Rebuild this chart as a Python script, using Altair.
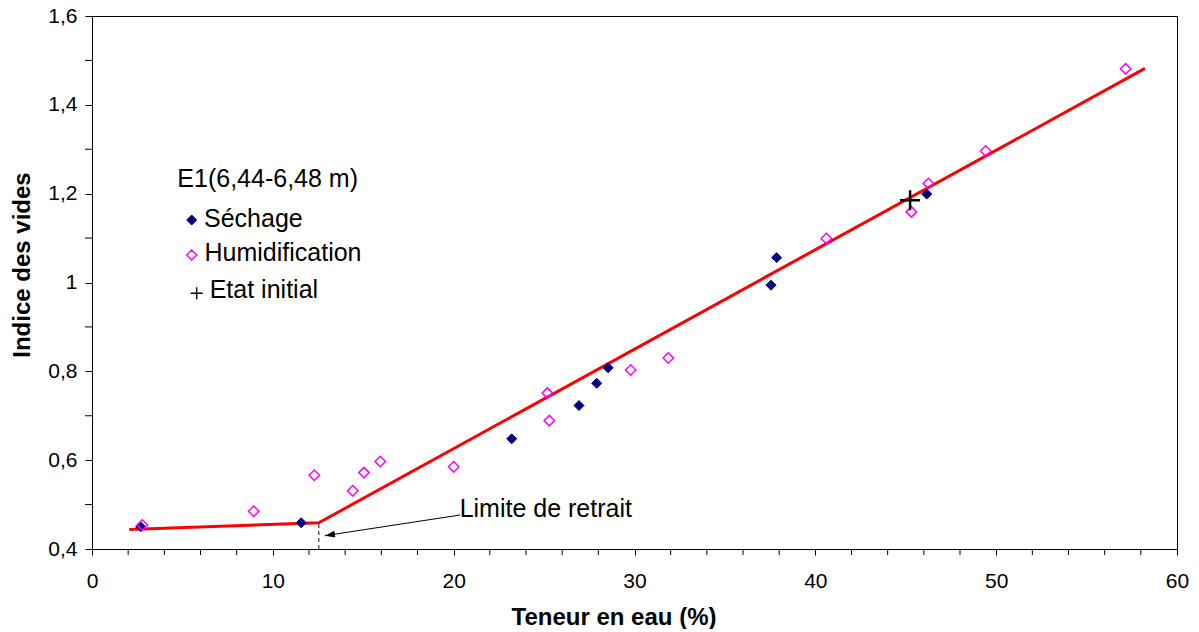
import altair as alt
import pandas as pd

# --- data ---
sechage_x = [2.69, 11.57, 23.21, 26.93, 27.91, 28.54, 37.55, 37.86, 46.16]
sechage_y = [0.450, 0.459, 0.648, 0.723, 0.773, 0.808, 0.994, 1.056, 1.199]

humid_x = [2.78, 8.94, 12.29, 14.42, 15.04, 15.94, 20.0, 25.18, 25.29, 29.79,
           31.87, 40.61, 45.31, 46.25, 49.42, 57.16]
humid_y = [0.454, 0.485, 0.566, 0.531, 0.572, 0.597, 0.585, 0.751, 0.689, 0.803,
           0.830, 1.099, 1.159, 1.223, 1.296, 1.481]

init_x = [45.24]
init_y = [1.185]

fit_x = [2.06, 12.54, 58.23]
fit_y = [0.444, 0.459, 1.482]

limite_x = 12.54
limite_y = 0.459

arrow_x = [20.35, 12.88]
arrow_y = [0.4765, 0.430]

series = ["Séchage", "Humidification", "Etat initial"]
legend_title = "E1(6,44-6,48 m)"
annotation = "Limite de retrait"

x_major = [0, 10, 20, 30, 40, 50, 60]
x_minor = [v for v in range(0, 61, 2) if v % 10 != 0]
y_major = [0.4, 0.6, 0.8, 1.0, 1.2, 1.4, 1.6]
y_minor = [0.5, 0.7, 0.9, 1.1, 1.3, 1.5]

FONT = "Liberation Sans"
W, H = 1085, 533

PLUS = "M-1,0L1,0M0,-1L0,1"
styles = {
    "Séchage": dict(shape="diamond", fill="#000080", stroke="#000080", size=100, sw=1),
    "Humidification": dict(shape="diamond", fill="transparent", stroke="#ff00ff", size=110, sw=1.5),
    "Etat initial": dict(shape=PLUS, fill="transparent", stroke="#000000", size=400, sw=2.5),
}
# legend layout (pixels inside the plot area)
legend_rows = {
    "Séchage": dict(sx=99.7, sy=204, tx=112, ty=210.7, ssize=100, ssw=1),
    "Humidification": dict(sx=99.7, sy=239, tx=112.5, ty=245, ssize=100, ssw=1.5),
    "Etat initial": dict(sx=104.7, sy=277.3, tx=117.7, ty=282.3, ssize=144, ssw=1.4),
}

series_xy = {series[0]: (sechage_x, sechage_y),
             series[1]: (humid_x, humid_y),
             series[2]: (init_x, init_y)}

fit = pd.DataFrame({"x": fit_x, "y": fit_y})
dash = pd.DataFrame({"x": [limite_x], "y": [0.4], "y2": [limite_y]})
arrow = pd.DataFrame({"x": arrow_x, "y": arrow_y, "o": [0, 1]})
head = pd.DataFrame({"x": [arrow_x[1]], "y": [arrow_y[1]]})
t_title = pd.DataFrame({"x": [4.72], "y": [1.2156], "t": [legend_title]})
t_annot = pd.DataFrame({"x": [20.33], "y": [0.4714], "t": [annotation]})
xmin_df = pd.DataFrame({"x": x_minor})
ymin_df = pd.DataFrame({"y": y_minor})

xs = alt.Scale(domain=[0, 60], nice=False, zero=False)
ys = alt.Scale(domain=[0.4, 1.6], nice=False, zero=False)

xax = alt.Axis(
    values=x_major, format="d",
    labelOverlap=False, labelBound=False, labelFlush=False,
    title="Teneur en eau (%)",
    titleX=521.5, titleY=68, titleBaseline="middle", titleAlign="center",
    labelPadding=15, tickSize=6,
)
yax = alt.Axis(
    values=y_major,
    labelExpr="replace(toString(round(datum.value*10)/10), '.', ',')",
    labelOverlap=False, labelBound=False, labelFlush=False,
    title="Indice des vides",
    titleX=-70, titleY=248.5, titleBaseline="middle", titleAlign="center", titleAngle=270,
    labelPadding=8, tickSize=7,
)

line = alt.Chart(fit).mark_line(color="#ff0000", strokeWidth=3).encode(
    x=alt.X("x:Q", scale=xs, axis=xax),
    y=alt.Y("y:Q", scale=ys, axis=yax),
)

# minor ticks (outside the plot, same length as the major ones)
xminor = alt.Chart(xmin_df).mark_rule(color="black", strokeWidth=1).encode(
    x="x:Q", y=alt.value(H), y2=alt.value(H + 6)
)
yminor = alt.Chart(ymin_df).mark_rule(color="black", strokeWidth=1).encode(
    y="y:Q", x=alt.value(-7), x2=alt.value(0)
)

dashed = alt.Chart(dash).mark_rule(color="#606060", strokeWidth=1.5, strokeDash=[4, 3]).encode(
    x="x:Q", y="y:Q", y2="y2:Q"
)

arrow_line = alt.Chart(arrow).mark_line(color="black", strokeWidth=1).encode(
    x="x:Q", y="y:Q", order="o:Q"
)

arrow_head = alt.Chart(head).mark_point(
    shape="M0,0L2,-0.7L2,0.7Z", filled=True, size=100, angle=351.3,
    color="black", opacity=1, strokeWidth=0,
).encode(x="x:Q", y="y:Q")

layers = [line, xminor, yminor, dashed, arrow_line, arrow_head]

for name in series:
    st = styles[name]
    xv, yv = series_xy[name]
    df = pd.DataFrame({"x": xv, "y": yv})
    layers.append(
        alt.Chart(df).mark_point(
            shape=st["shape"], filled=True, fill=st["fill"], stroke=st["stroke"],
            size=st["size"], strokeWidth=st["sw"], opacity=1,
        ).encode(x="x:Q", y="y:Q")
    )

# legend (symbols + labels)
for name in series:
    st = styles[name]
    lr = legend_rows[name]
    ldf = pd.DataFrame({"t": [name]})
    layers.append(
        alt.Chart(ldf).mark_point(
            shape=st["shape"], filled=True, fill=st["fill"], stroke=st["stroke"],
            size=lr["ssize"], strokeWidth=lr["ssw"], opacity=1,
        ).encode(x=alt.value(lr["sx"]), y=alt.value(lr["sy"]))
    )
    layers.append(
        alt.Chart(ldf).mark_text(align="left", baseline="alphabetic", font=FONT,
                                 fontSize=25, color="black").encode(
            x=alt.value(lr["tx"]), y=alt.value(lr["ty"]), text="t:N"
        )
    )

title_text = alt.Chart(t_title).mark_text(align="left", baseline="alphabetic", font=FONT,
                                          fontSize=25, color="black").encode(
    x="x:Q", y="y:Q", text="t:N"
)
annot_text = alt.Chart(t_annot).mark_text(align="left", baseline="alphabetic", font=FONT,
                                          fontSize=25, color="black").encode(
    x="x:Q", y="y:Q", text="t:N"
)
layers += [title_text, annot_text]

chart = alt.layer(*layers).properties(
    width=W, height=H,
    padding={"left": 84, "top": 8, "right": 14, "bottom": 80},
    autosize=alt.AutoSizeParams(type="none"),
    background="white",
).configure_view(stroke="black", strokeWidth=1).configure_axis(
    grid=False, domainColor="black", tickColor="black", labelColor="black",
    titleColor="black", labelFont=FONT, titleFont=FONT, labelFontSize=21,
    titleFontSize=24, titleFontWeight="bold", domainWidth=1, tickWidth=1,
).configure_text(font=FONT)

chart.save("out.html", embed_options={"renderer": "svg", "actions": False})
